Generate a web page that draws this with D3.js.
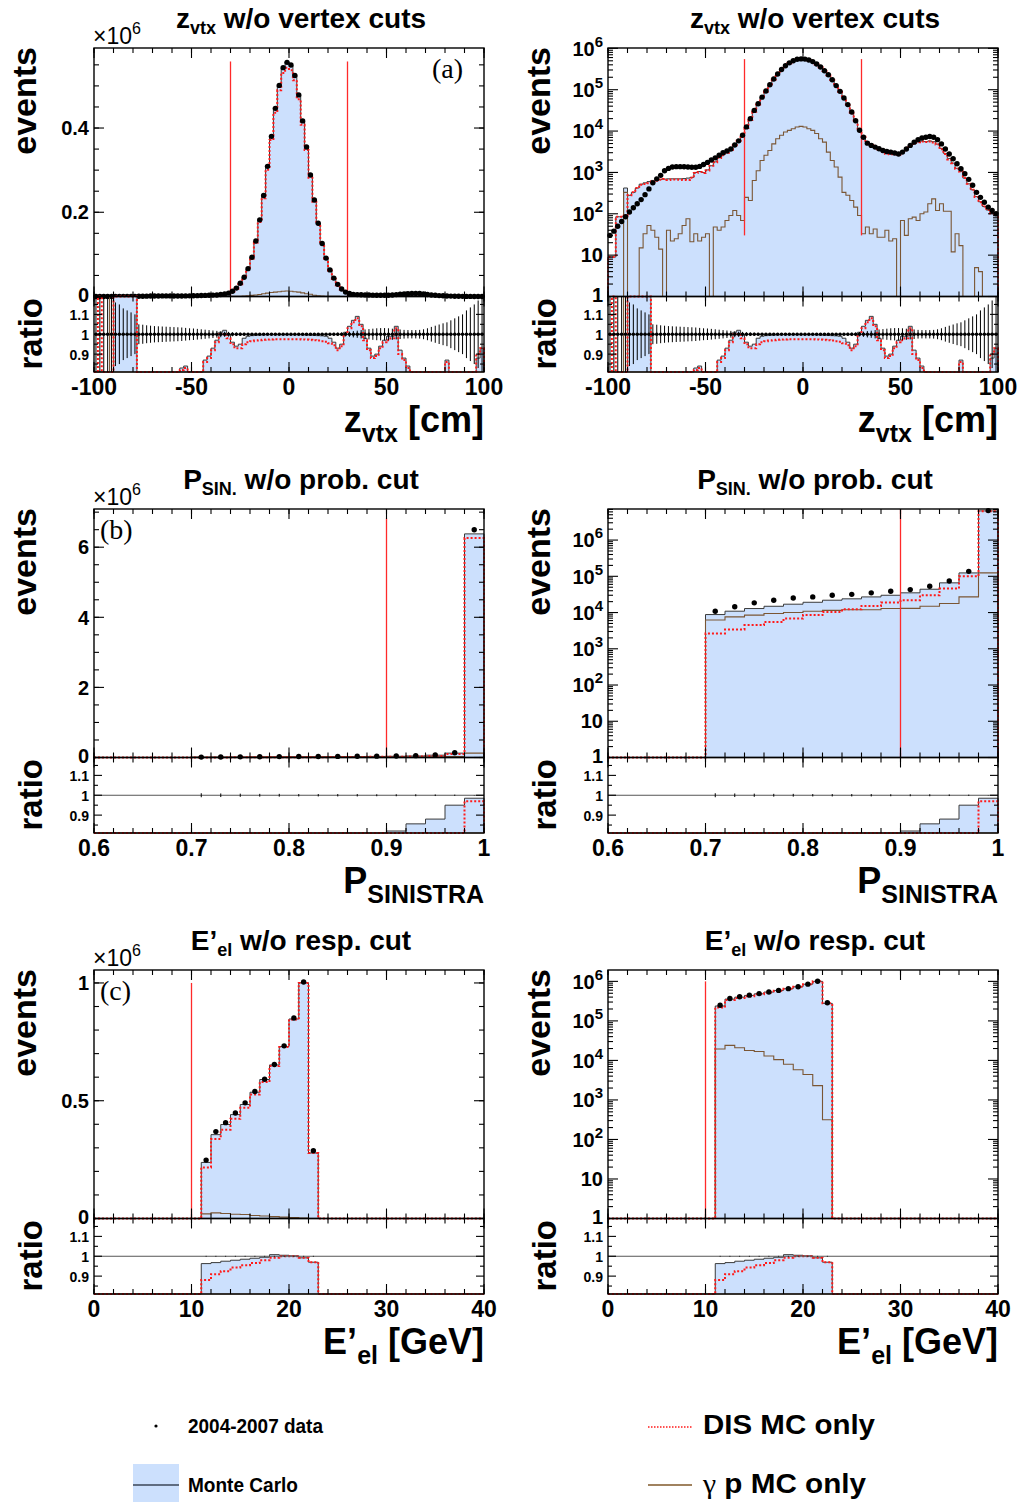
<!DOCTYPE html>
<html>
<head>
<meta charset="utf-8">
<title>control plots</title>
<script src="https://cdn.jsdelivr.net/npm/d3@7/dist/d3.min.js"></script>
<style>
  html, body { margin: 0; padding: 0; background: #fff; }
  #chart svg { display: block; }
  text { white-space: pre; }
</style>
</head>
<body>
<div id="chart"></div>
<script>
// ---- z_vtx : 2 cm bins, -100 .. 100 ----
const zEdges = d3.range(-100, 101, 2);
const dataZ = [
  30, 38, 50, 65, 85, 110, 140, 175, 220, 290,
  400, 560, 700, 850, 1100, 1250, 1350, 1380, 1380, 1370,
  1350, 1330, 1330, 1400, 1550, 1750, 2000, 2250, 2600, 3000,
  3300, 3700, 4600, 5800, 7900, 12600, 19950, 31600, 45700, 66100,
  93300, 131800, 182000, 239900, 309000, 380200, 446700, 501200, 543300, 555900,
  549500, 524800, 478600, 416900, 354800, 288400, 229100, 173800, 125900, 91200,
  63100, 43650, 28840, 17780, 10470, 7080, 5100, 4500, 4100, 3750,
  3400, 3200, 3100, 2950, 2800, 3100, 3700, 4500, 5400, 6200,
  6800, 7100, 7400, 7100, 6200, 4900, 3700, 2800, 2150, 1620,
  1230, 930, 680, 490, 330, 250, 190, 145, 120, 100
];
const mcZ = [
  9, 9, 85, 85, 420, 280, 330, 420, 520, 560,
  600, 640, 660, 680, 690, 700, 700, 700, 700, 710,
  730, 760, 1000, 1050, 1000, 1150, 1450, 1800, 2260, 2670,
  3070, 3590, 4650, 5920, 7900, 12100, 18750, 30000, 44800, 65400,
  92800, 131400, 181600, 239700, 309000, 380200, 446700, 501200, 543300, 555900,
  549500, 524800, 478600, 416500, 354100, 287500, 228200, 172900, 125000, 90300,
  61800, 41900, 26800, 16900, 10570, 7360, 5460, 4900, 4300, 3680,
  3160, 2850, 2790, 2770, 2720, 3070, 3660, 4680, 4970, 5460,
  5710, 5540, 5770, 5540, 4840, 3820, 2890, 2180, 1680, 1260,
  1070, 730, 530, 380, 260, 195, 150, 123, 102, 93
];
const disZ = [
  9, 9, 85, 85, 90, 280, 330, 420, 505, 527,
  548, 600, 633, 666, 690, 660, 678, 675, 667, 658,
  654, 739, 967, 1028, 973, 1117, 1450, 1752, 2220, 2620,
  3000, 3500, 4530, 5830, 7830, 11850, 18540, 29360, 43700, 63450,
  90200, 128000, 176700, 233200, 301100, 371500, 436300, 489800, 530900, 542900,
  537000, 513400, 468200, 407800, 347600, 282100, 225100, 171550, 124200, 89500,
  61470, 41620, 26590, 16755, 10480, 7330, 5410, 4870, 4257, 3653,
  3133, 2810, 2768, 2745, 2720, 3000, 3630, 4600, 4890, 5390,
  5610, 5430, 5600, 5310, 4720, 3645, 2775, 2065, 1670, 1230,
  1053, 730, 530, 380, 255, 191, 150, 123, 102, 93
];
const gpZ = [
  0, 0, 0, 0, 330, 0, 0, 0, 15, 33,
  52, 40, 27, 14, 0, 40, 22, 25, 33, 52,
  76, 21, 33, 22, 27, 33, 0, 48, 40, 48,
  69, 91, 120, 91, 69, 250, 210, 640, 1100, 1950,
  2600, 3400, 4900, 6500, 7900, 9500, 10400, 11400, 12500, 13000,
  12500, 11400, 10400, 8700, 6500, 5400, 3100, 1950, 1350, 770,
  330, 280, 210, 145, 91, 33, 48, 33, 43, 27,
  27, 40, 22, 25, 0, 69, 30, 76, 83, 69,
  100, 110, 175, 230, 120, 175, 115, 115, 12, 33,
  17, 0, 0, 0, 5, 4, 0, 0, 0, 0
];
const rMcZ = [
  0.5, 0.5, 0.5, 0.5, 0.5, 1.5, 1.5, 1.5, 1.5, 1.5,
  1.5, 0.5, 0.5, 0.5, 0.5, 0.5, 0.5, 0.5, 0.5, 0.5,
  0.5, 0.5, 0.83, 0.84, 0.5, 0.5, 0.5, 0.5, 0.87, 0.89,
  0.93, 0.97, 1.01, 1.02, 1.0, 0.96, 0.94, 0.95, 0.98, 0.99,
  0.993, 0.995, 0.996, 0.997, 0.998, 0.998, 0.998, 0.998, 0.998, 0.998,
  0.998, 0.998, 0.998, 0.997, 0.996, 0.995, 0.994, 0.993, 0.992, 0.99,
  0.98, 0.96, 0.93, 0.95, 1.01, 1.04, 1.07, 1.09, 1.05, 0.98,
  0.93, 0.89, 0.9, 0.94, 0.97, 0.99, 0.99, 1.04, 0.92, 0.88,
  0.84, 0.78, 0.78, 0.78, 0.78, 0.78, 0.78, 0.78, 0.78, 0.78,
  0.87, 0.78, 0.78, 0.78, 0.78, 0.78, 0.78, 0.78, 0.88, 0.93
];
const rDisZ = [
  0.5, 1.5, 0.5, 0.5, 0.5, 1.5, 1.5, 1.5, 1.5, 1.5,
  1.5, 0.5, 0.5, 0.5, 0.5, 0.5, 0.5, 0.5, 0.5, 0.5,
  0.5, 0.5, 0.82, 0.83, 0.5, 0.5, 0.5, 0.5, 0.86, 0.88,
  0.92, 0.96, 1.0, 1.0, 0.98, 0.95, 0.93, 0.93, 0.95, 0.96,
  0.965, 0.968, 0.97, 0.972, 0.973, 0.974, 0.975, 0.975, 0.975, 0.975,
  0.975, 0.975, 0.975, 0.974, 0.973, 0.972, 0.97, 0.968, 0.965, 0.962,
  0.955, 0.945, 0.92, 0.94, 1.0, 1.03, 1.06, 1.08, 1.04, 0.97,
  0.92, 0.88, 0.89, 0.93, 0.96, 0.97, 0.98, 1.03, 0.9, 0.87,
  0.83, 0.5, 0.5, 0.5, 0.5, 0.5, 0.5, 0.5, 0.5, 0.5,
  0.86, 0.5, 0.5, 0.5, 0.5, 0.5, 0.5, 0.5, 0.9, 0.93
];
const errZ = [
  0.4, 0.4, 0.4, 0.4, 0.4, 0.16, 0.15, 0.13, 0.12, 0.11,
  0.1, 0.05, 0.048, 0.045, 0.043, 0.041, 0.04, 0.039, 0.038, 0.037,
  0.036, 0.035, 0.034, 0.032, 0.03, 0.029, 0.027, 0.025, 0.023, 0.021,
  0.019, 0.017, 0.015, 0.013, 0.012, 0.01, 0.009, 0.008, 0.007, 0.006,
  0.005, 0.005, 0.005, 0.005, 0.005, 0.005, 0.005, 0.005, 0.005, 0.005,
  0.005, 0.005, 0.005, 0.005, 0.005, 0.005, 0.005, 0.005, 0.005, 0.005,
  0.006, 0.007, 0.008, 0.009, 0.011, 0.013, 0.016, 0.018, 0.021, 0.024,
  0.026, 0.028, 0.03, 0.031, 0.031, 0.03, 0.028, 0.026, 0.024, 0.022,
  0.021, 0.021, 0.021, 0.022, 0.025, 0.03, 0.037, 0.043, 0.049, 0.055,
  0.06, 0.07, 0.08, 0.09, 0.1, 0.12, 0.135, 0.15, 0.17, 0.19
];
const zTicks = [-100, -50, 0, 50, 100];
const zTickLabels = ['-100', '-50', '0', '50', '100'];
const cutZ = [-30, 30];

// ---- P_SINISTRA : 0.02 bins, 0.6 .. 1.0 ----
const pEdges = d3.range(0, 21).map((i) => 0.6 + i * 0.02);
const dataP = [0, 0, 0, 0, 0, 10900, 14400, 18500, 21900, 25300,
  27000, 30000, 31800, 34900, 38600, 43000, 53000, 74000, 137000, 6500000];
const mcP = [0, 0, 0, 0, 0, 8800, 10900, 12900, 14900, 17000,
  19200, 21900, 23900, 27000, 30000, 35000, 44000, 66000, 124000, 6380000];
const disP = [0, 0, 0, 0, 0, 2650, 3400, 4500, 5500, 6800,
  8500, 10400, 12300, 15200, 19000, 21900, 30000, 46000, 100000, 6260000];
const gpP = [0, 0, 0, 0, 0, 6200, 7600, 8500, 9400, 10000,
  10900, 11500, 12000, 12000, 12900, 13000, 14900, 17700, 27000, 124000];
const rMcP = [0, 0, 0, 0, 0, 0.81, 0.76, 0.7, 0.68, 0.67,
  0.71, 0.73, 0.75, 0.77, 0.78, 0.82, 0.856, 0.88, 0.95, 0.985];
const rDisP = [0, 0, 0, 0, 0, 0.24, 0.24, 0.24, 0.25, 0.27,
  0.31, 0.35, 0.39, 0.44, 0.49, 0.51, 0.57, 0.62, 0.73, 0.97];
const errP = [0, 0, 0, 0, 0, 0.01, 0.009, 0.008, 0.007, 0.007,
  0.006, 0.006, 0.006, 0.006, 0.005, 0.005, 0.005, 0.004, 0.003, 0.001];
const pTicks = [0.6, 0.7, 0.8, 0.9, 1.0];
const pTickLabels = ['0.6', '0.7', '0.8', '0.9', '1'];
const cutP = [0.9];

// ---- E'_el : 1 GeV bins, 0 .. 40 ----
const eEdges = d3.range(0, 41);
const dataE = [0, 0, 0, 0, 0, 0, 0, 0, 0, 0, 0,
  248000, 369000, 407000, 448000, 491000, 539000, 591000, 654000, 733000, 851000, 1004000, 288000,
  0, 0, 0, 0, 0, 0, 0, 0, 0, 0, 0, 0, 0, 0, 0, 0, 0];
const mcE = [0, 0, 0, 0, 0, 0, 0, 0, 0, 0, 0,
  238000, 356000, 399000, 441000, 484000, 536000, 590000, 652000, 730000, 847000, 1001000, 278000,
  0, 0, 0, 0, 0, 0, 0, 0, 0, 0, 0, 0, 0, 0, 0, 0, 0];
const disE = [0, 0, 0, 0, 0, 0, 0, 0, 0, 0, 0,
  217000, 338000, 377000, 423000, 470000, 526000, 579000, 647000, 728000, 845000, 1000000, 278000,
  0, 0, 0, 0, 0, 0, 0, 0, 0, 0, 0, 0, 0, 0, 0, 0, 0];
const gpE = [0, 0, 0, 0, 0, 0, 0, 0, 0, 0, 0,
  19500, 24000, 21000, 17800, 16800, 12900, 10500, 8000, 5800, 4400, 2300, 315,
  0, 0, 0, 0, 0, 0, 0, 0, 0, 0, 0, 0, 0, 0, 0, 0, 0];
const rMcE = [0, 0, 0, 0, 0, 0, 0, 0, 0, 0, 0,
  0.963, 0.968, 0.975, 0.98, 0.985, 0.99, 0.995, 1.008, 1.005, 1.002, 0.992, 0.97,
  0, 0, 0, 0, 0, 0, 0, 0, 0, 0, 0, 0, 0, 0, 0, 0, 0];
const rDisE = [0, 0, 0, 0, 0, 0, 0, 0, 0, 0, 0,
  0.88, 0.91, 0.925, 0.943, 0.955, 0.966, 0.98, 0.993, 1.0, 1.0, 0.992, 0.97,
  0, 0, 0, 0, 0, 0, 0, 0, 0, 0, 0, 0, 0, 0, 0, 0, 0];
const errE = [0, 0, 0, 0, 0, 0, 0, 0, 0, 0, 0,
  0.002, 0.002, 0.002, 0.002, 0.002, 0.002, 0.002, 0.002, 0.002, 0.002, 0.002, 0.002,
  0, 0, 0, 0, 0, 0, 0, 0, 0, 0, 0, 0, 0, 0, 0, 0, 0];
const eTicks = [0, 10, 20, 30, 40];
const eTickLabels = ['0', '10', '20', '30', '40'];
const cutE = [10];

// ratio pad + log labels
const ratioDomain = [0.81, 1.19];
const ratioTicks = [0.9, 1, 1.1];
const ratioTickLabels = ['0.9', '1', '1.1'];
const ratioMinor = [0.85, 0.95, 1.05, 1.15];
const logExponents = [0, 1, 2, 3, 4, 5, 6];

const legendLabels = ['2004-2007 data', 'Monte Carlo', 'DIS MC only', 'p MC only'];

const BLUE = '#cce0fd';
const RED = '#ff1a1a';
const CUT = '#ff2a2a';
const BROWN = '#7a5634';
const OUTLINE = '#3a3a3a';
const FONT = "'Liberation Sans', Arial, Helvetica, sans-serif";
const SERIF = "'Liberation Serif', 'DejaVu Serif', serif";

const frame = {
  colX: [94, 608], width: 390,
  rowY: [48, 509, 970], mainH: 248.5, ratioH: 75.5,
};

// shared per row
const rows = [
  { edges: zEdges, data: dataZ, mc: mcZ, dis: disZ, gp: gpZ, rMc: rMcZ, rDis: rDisZ, err: errZ,
    xDomain: [-100, 100], xTicks: zTicks, xLabels: zTickLabels, xMinor: 10, cuts: cutZ, ratioDot: 1.8,
    title: ['z', 'vtx', ' w/o vertex cuts'], xTitle: ['z', 'vtx', ' [cm]'] },
  { edges: pEdges, data: dataP, mc: mcP, dis: disP, gp: gpP, rMc: rMcP, rDis: rDisP, err: errP,
    xDomain: [0.6, 1.0], xTicks: pTicks, xLabels: pTickLabels, xMinor: 0.02, cuts: cutP, ratioDot: 0,
    title: ['P', 'SIN.', ' w/o prob. cut'], xTitle: ['P', 'SINISTRA', ''] },
  { edges: eEdges, data: dataE, mc: mcE, dis: disE, gp: gpE, rMc: rMcE, rDis: rDisE, err: errE,
    xDomain: [0, 40], xTicks: eTicks, xLabels: eTickLabels, xMinor: 2, cuts: cutE, ratioDot: 0,
    title: ['E\u2019', 'el', ' w/o resp. cut'], xTitle: ['E\u2019', 'el', ' [GeV]'] },
];
// per panel y-axis setup
const yAxes = [
  [{ log: false, yMax: 0.59e6, yTicks: [0, 0.2e6, 0.4e6], yLabels: ['0', '0.2', '0.4'], yMinor: 0.05e6,
    cutRange: [0, 0.558e6], tag: '(a)', tagRight: true },
   { log: true, yMax: 1.02e6, cutRange: [30, 5.5e5] }],
  [{ log: false, yMax: 7.09e6, yTicks: [0, 2e6, 4e6, 6e6], yLabels: ['0', '2', '4', '6'], yMinor: 0.5e6,
    cutRange: [0, 6.82e6], tag: '(b)' },
   { log: true, yMax: 7.2e6, cutRange: [1, 7.2e6] }],
  [{ log: false, yMax: 1.055e6, yTicks: [0, 0.5e6, 1e6], yLabels: ['0', '0.5', '1'], yMinor: 0.1e6,
    cutRange: [0, 1.0e6], tag: '(c)' },
   { log: true, yMax: 1.94e6, cutRange: [1, 1.0e6] }],
];

function clamped(scale) {
  const [lo, hi] = d3.extent(scale.domain());
  return (v) => scale(v > lo ? Math.min(v, hi) : lo);
}

function stepPath(edges, vals, x, yf) {
  const base = yf(0);
  let d = `M${x(edges[0])},${base}`;
  vals.forEach((v, i) => { d += `V${yf(v)}H${x(edges[i + 1])}`; });
  return `${d}V${base}`;
}

function addSub(textSel, parts, subSize, shift) {
  textSel.append('tspan').text(parts[0]);
  textSel.append('tspan').attr('font-size', subSize).attr('dy', shift).text(parts[1]);
  if (parts[2]) textSel.append('tspan').attr('dy', -shift).text(parts[2]);
}

class HistPanel {
  constructor(root, options) {
    this.options = options;
    this.root = root;
    this.setupVar();
    this.setupUtils();
    this.setupDOM();
  }

  setupVar() {
    const o = this.options;
    this.left = frame.colX[o.col];
    this.right = this.left + frame.width;
    this.top = frame.rowY[o.row];
    this.mid = this.top + frame.mainH;
    this.bottom = this.mid + frame.ratioH;
    this.centers = o.edges.slice(0, -1).map((e, i) => (e + o.edges[i + 1]) / 2);
  }

  setupUtils() {
    const o = this.options;
    this.x = d3.scaleLinear().domain(o.xDomain).range([this.left, this.right]);
    this.y = (o.log ? d3.scaleLog() : d3.scaleLinear())
      .domain([o.log ? 1 : 0, o.yMax])
      .range([this.mid, this.top]);
    this.r = d3.scaleLinear().domain(ratioDomain).range([this.bottom, this.mid]);
  }

  setupDOM() {
    this.g = this.root.append('g').attr('class', `panel r${this.options.row} c${this.options.col}`);
    this.plots = this.g.append('g').attr('class', 'plots');
    this.axes = this.g.append('g').attr('class', 'axes');
  }

  drawHists(scale, mc, dis, gp) {
    const o = this.options;
    const yf = clamped(scale);
    this.plots.append('path')
      .attr('d', `${stepPath(o.edges, mc, this.x, yf)}Z`)
      .attr('fill', BLUE);
    this.plots.append('path')
      .attr('d', stepPath(o.edges, mc, this.x, yf))
      .attr('fill', 'none').attr('stroke', OUTLINE).attr('stroke-width', 1);
    this.plots.append('path')
      .attr('d', stepPath(o.edges, gp, this.x, yf))
      .attr('fill', 'none').attr('stroke', BROWN).attr('stroke-width', 1.1);
    this.plots.append('path')
      .attr('d', stepPath(o.edges, dis, this.x, yf))
      .attr('fill', 'none').attr('stroke', RED).attr('stroke-width', 2)
      .attr('stroke-dasharray', '2,2');
  }

  drawMain() {
    const o = this.options;
    const yf = clamped(this.y);
    this.drawHists(this.y, o.mc, o.dis, o.gp);

    this.plots.selectAll('line.cut').data(o.cuts).join('line')
      .attr('class', 'cut')
      .attr('x1', (d) => this.x(d)).attr('x2', (d) => this.x(d))
      .attr('y1', yf(o.cutRange[0])).attr('y2', yf(o.cutRange[1]))
      .attr('stroke', CUT).attr('stroke-width', 1.3);

    const pts = o.data.map((v, i) => ({ v, c: this.centers[i] })).filter((d) => d.v > 0);
    this.plots.selectAll('circle.data').data(pts).join('circle')
      .attr('class', 'data')
      .attr('cx', (d) => this.x(d.c)).attr('cy', (d) => yf(d.v))
      .attr('r', 2.7).attr('fill', '#000');
  }

  drawRatio() {
    const o = this.options;
    const rf = clamped(this.r);
    const gpRatio = o.gp.map((v, i) => (o.data[i] > 0 ? v / o.data[i] : 0));
    this.drawHists(this.r, o.rMc, o.rDis, gpRatio);

    this.plots.append('line')
      .attr('x1', this.left).attr('x2', this.right)
      .attr('y1', this.r(1)).attr('y2', this.r(1))
      .attr('stroke', '#555').attr('stroke-width', 1);

    const pts = o.err.map((e, i) => ({ e, c: this.centers[i], v: o.data[i] })).filter((d) => d.v > 0);
    this.plots.selectAll('line.err').data(pts).join('line')
      .attr('class', 'err')
      .attr('x1', (d) => this.x(d.c)).attr('x2', (d) => this.x(d.c))
      .attr('y1', (d) => rf(1 - d.e)).attr('y2', (d) => rf(1 + d.e))
      .attr('stroke', '#000').attr('stroke-width', 1);
    if (o.ratioDot > 0) {
      this.plots.selectAll('circle.rdot').data(pts).join('circle')
        .attr('class', 'rdot')
        .attr('cx', (d) => this.x(d.c)).attr('cy', this.r(1))
        .attr('r', o.ratioDot).attr('fill', '#000');
    }
  }

  xTicks(vals, len, yTop, yBot, cls) {
    const g = this.axes.append('g').attr('stroke', '#000').attr('stroke-width', 1.1);
    g.selectAll(`line.${cls}t`).data(vals).join('line').attr('class', `${cls}t`)
      .attr('x1', (d) => this.x(d)).attr('x2', (d) => this.x(d))
      .attr('y1', yTop).attr('y2', yTop + len);
    g.selectAll(`line.${cls}b`).data(vals).join('line').attr('class', `${cls}b`)
      .attr('x1', (d) => this.x(d)).attr('x2', (d) => this.x(d))
      .attr('y1', yBot).attr('y2', yBot - len);
  }

  yTicks(scale, vals, len, cls) {
    const g = this.axes.append('g').attr('stroke', '#000').attr('stroke-width', 1.1);
    g.selectAll(`line.${cls}l`).data(vals).join('line').attr('class', `${cls}l`)
      .attr('y1', (d) => scale(d)).attr('y2', (d) => scale(d))
      .attr('x1', this.left).attr('x2', this.left + len);
    g.selectAll(`line.${cls}r`).data(vals).join('line').attr('class', `${cls}r`)
      .attr('y1', (d) => scale(d)).attr('y2', (d) => scale(d))
      .attr('x1', this.right).attr('x2', this.right - len);
  }

  drawAxes() {
    const o = this.options;
    [[this.top, this.mid], [this.mid, this.bottom]].forEach(([t, b]) => {
      this.axes.append('rect')
        .attr('x', this.left).attr('y', t)
        .attr('width', this.right - this.left).attr('height', b - t)
        .attr('fill', 'none').attr('stroke', '#000').attr('stroke-width', 1.4);
    });

    const xMinor = d3.range(o.xDomain[0], o.xDomain[1] + o.xMinor / 2, o.xMinor);
    this.xTicks(xMinor, 5, this.top, this.mid, 'mxm');
    this.xTicks(o.xTicks, 10, this.top, this.mid, 'mxM');
    this.xTicks(xMinor, 5, this.mid, this.bottom, 'rxm');
    this.xTicks(o.xTicks, 10, this.mid, this.bottom, 'rxM');

    if (o.log) {
      const all = this.y.ticks();
      const isMajor = (v) => Math.abs(Math.log10(v) - Math.round(Math.log10(v))) < 1e-9;
      this.yTicks(this.y, all.filter((v) => !isMajor(v)), 5, 'ym');
      this.yTicks(this.y, all.filter(isMajor), 10, 'yM');
    } else {
      this.yTicks(this.y, d3.range(0, o.yMax, o.yMinor), 5, 'ym');
      this.yTicks(this.y, o.yTicks, 10, 'yM');
    }
    this.yTicks(this.r, ratioMinor, 4, 'rm');
    this.yTicks(this.r, ratioTicks, 8, 'rM');
  }

  drawLabels() {
    const o = this.options;
    this.axes.selectAll('text.xl').data(o.xTicks).join('text')
      .attr('class', 'xl')
      .attr('x', (d) => this.x(d)).attr('y', this.bottom + 23)
      .attr('text-anchor', 'middle').attr('font-size', 23).attr('font-weight', 'bold')
      .text((d, i) => o.xLabels[i]);

    // the label sitting on the pad boundary is nudged up a little
    const lift = (first) => (first ? '0.28em' : '0.36em');
    if (o.log) {
      const exps = logExponents.filter((e) => 10 ** e <= o.yMax);
      this.axes.selectAll('text.yl').data(exps).join('text')
        .attr('class', 'yl')
        .attr('x', this.left - 5).attr('y', (e) => this.y(10 ** e)).attr('dy', (e) => lift(e === 0))
        .attr('text-anchor', 'end').attr('font-size', 20)
        .attr('font-weight', 'bold')
        .each(function (e) {
          const s = d3.select(this);
          if (e < 2) {
            s.text(e === 0 ? '1' : '10');
          } else {
            s.append('tspan').text('10');
            s.append('tspan').attr('font-size', 15).attr('dy', -9).text(e);
          }
        });
    } else {
      this.axes.selectAll('text.yl').data(o.yTicks).join('text')
        .attr('class', 'yl')
        .attr('x', this.left - 5).attr('y', (d) => this.y(d)).attr('dy', (d) => lift(d === 0))
        .attr('text-anchor', 'end').attr('font-size', 20)
        .attr('font-weight', 'bold')
        .text((d, i) => o.yLabels[i]);

      const mult = this.axes.append('text')
        .attr('x', this.left - 1).attr('y', this.top - 4)
        .attr('font-size', 23);
      mult.append('tspan').text('\u00d710');
      mult.append('tspan').attr('font-size', 16).attr('dy', -10).text('6');

      this.axes.append('text')
        .attr('x', o.tagRight ? this.right - 52 : this.left + 6)
        .attr('y', this.top + 30)
        .attr('font-family', SERIF).attr('font-size', 28)
        .text(o.tag);
    }

    this.axes.selectAll('text.rl').data(ratioTicks).join('text')
      .attr('class', 'rl')
      .attr('x', this.left - 5).attr('y', (d) => this.r(d)).attr('dy', '0.4em')
      .attr('text-anchor', 'end').attr('font-size', 14).attr('font-weight', 'bold')
      .text((d, i) => ratioTickLabels[i]);

    const title = this.axes.append('text')
      .attr('x', (this.left + this.right) / 2 + 12).attr('y', this.top - 20)
      .attr('text-anchor', 'middle').attr('font-size', 28).attr('font-weight', 'bold');
    addSub(title, o.title, 18, 6);

    const xTitle = this.axes.append('text')
      .attr('x', this.right).attr('y', this.bottom + 60)
      .attr('text-anchor', 'end').attr('font-size', 36).attr('font-weight', 'bold');
    addSub(xTitle, o.xTitle, 25, 10);

    this.axes.append('text')
      .attr('transform', `translate(${this.left - 58.5},${this.top - 1}) rotate(-90)`)
      .attr('text-anchor', 'end').attr('font-size', 34).attr('font-weight', 'bold')
      .text('events');
    this.axes.append('text')
      .attr('transform', `translate(${this.left - 52},${this.mid + 1.5}) rotate(-90)`)
      .attr('text-anchor', 'end').attr('font-size', 33).attr('font-weight', 'bold')
      .text('ratio');
  }

  draw() {
    this.drawMain();
    this.drawRatio();
    this.drawAxes();
    this.drawLabels();
  }
}

function drawLegend(root) {
  const g = root.append('g').attr('class', 'legend').attr('font-weight', 'bold');

  g.append('circle').attr('cx', 156).attr('cy', 1426).attr('r', 1.6).attr('fill', '#000');
  g.append('text').attr('x', 188).attr('y', 1433).attr('font-size', 21)
    .attr('textLength', 135).attr('lengthAdjust', 'spacingAndGlyphs')
    .text(legendLabels[0]);

  g.append('rect').attr('x', 133).attr('y', 1464).attr('width', 46).attr('height', 38).attr('fill', BLUE);
  g.append('line').attr('x1', 133).attr('x2', 179).attr('y1', 1485).attr('y2', 1485)
    .attr('stroke', '#3b4656').attr('stroke-width', 1.6);
  g.append('text').attr('x', 188).attr('y', 1492).attr('font-size', 20)
    .attr('textLength', 110).attr('lengthAdjust', 'spacingAndGlyphs')
    .text(legendLabels[1]);

  g.append('line').attr('x1', 648).attr('x2', 692).attr('y1', 1427).attr('y2', 1427)
    .attr('stroke', RED).attr('stroke-width', 1.4).attr('stroke-dasharray', '1.5,1.5');
  g.append('text').attr('x', 703).attr('y', 1434).attr('font-size', 28)
    .attr('textLength', 172).attr('lengthAdjust', 'spacingAndGlyphs')
    .text(legendLabels[2]);

  g.append('line').attr('x1', 648).attr('x2', 692).attr('y1', 1485).attr('y2', 1485)
    .attr('stroke', '#a0825f').attr('stroke-width', 2);
  const gp = g.append('text').attr('x', 703).attr('y', 1493).attr('font-size', 28)
    .attr('textLength', 163).attr('lengthAdjust', 'spacingAndGlyphs');
  gp.append('tspan').attr('font-family', SERIF).attr('font-weight', 'normal').text('\u03b3');
  gp.append('tspan').text(` ${legendLabels[3]}`);
}

const svg = d3.select('#chart').append('svg')
  .attr('width', 1020).attr('height', 1502)
  .attr('font-family', FONT);

rows.forEach((rowOpts, row) => {
  yAxes[row].forEach((axisOpts, col) => {
    const panel = new HistPanel(svg, { ...rowOpts, ...axisOpts, row, col });
    panel.draw();
  });
});

drawLegend(svg);
</script>
</body>
</html>
